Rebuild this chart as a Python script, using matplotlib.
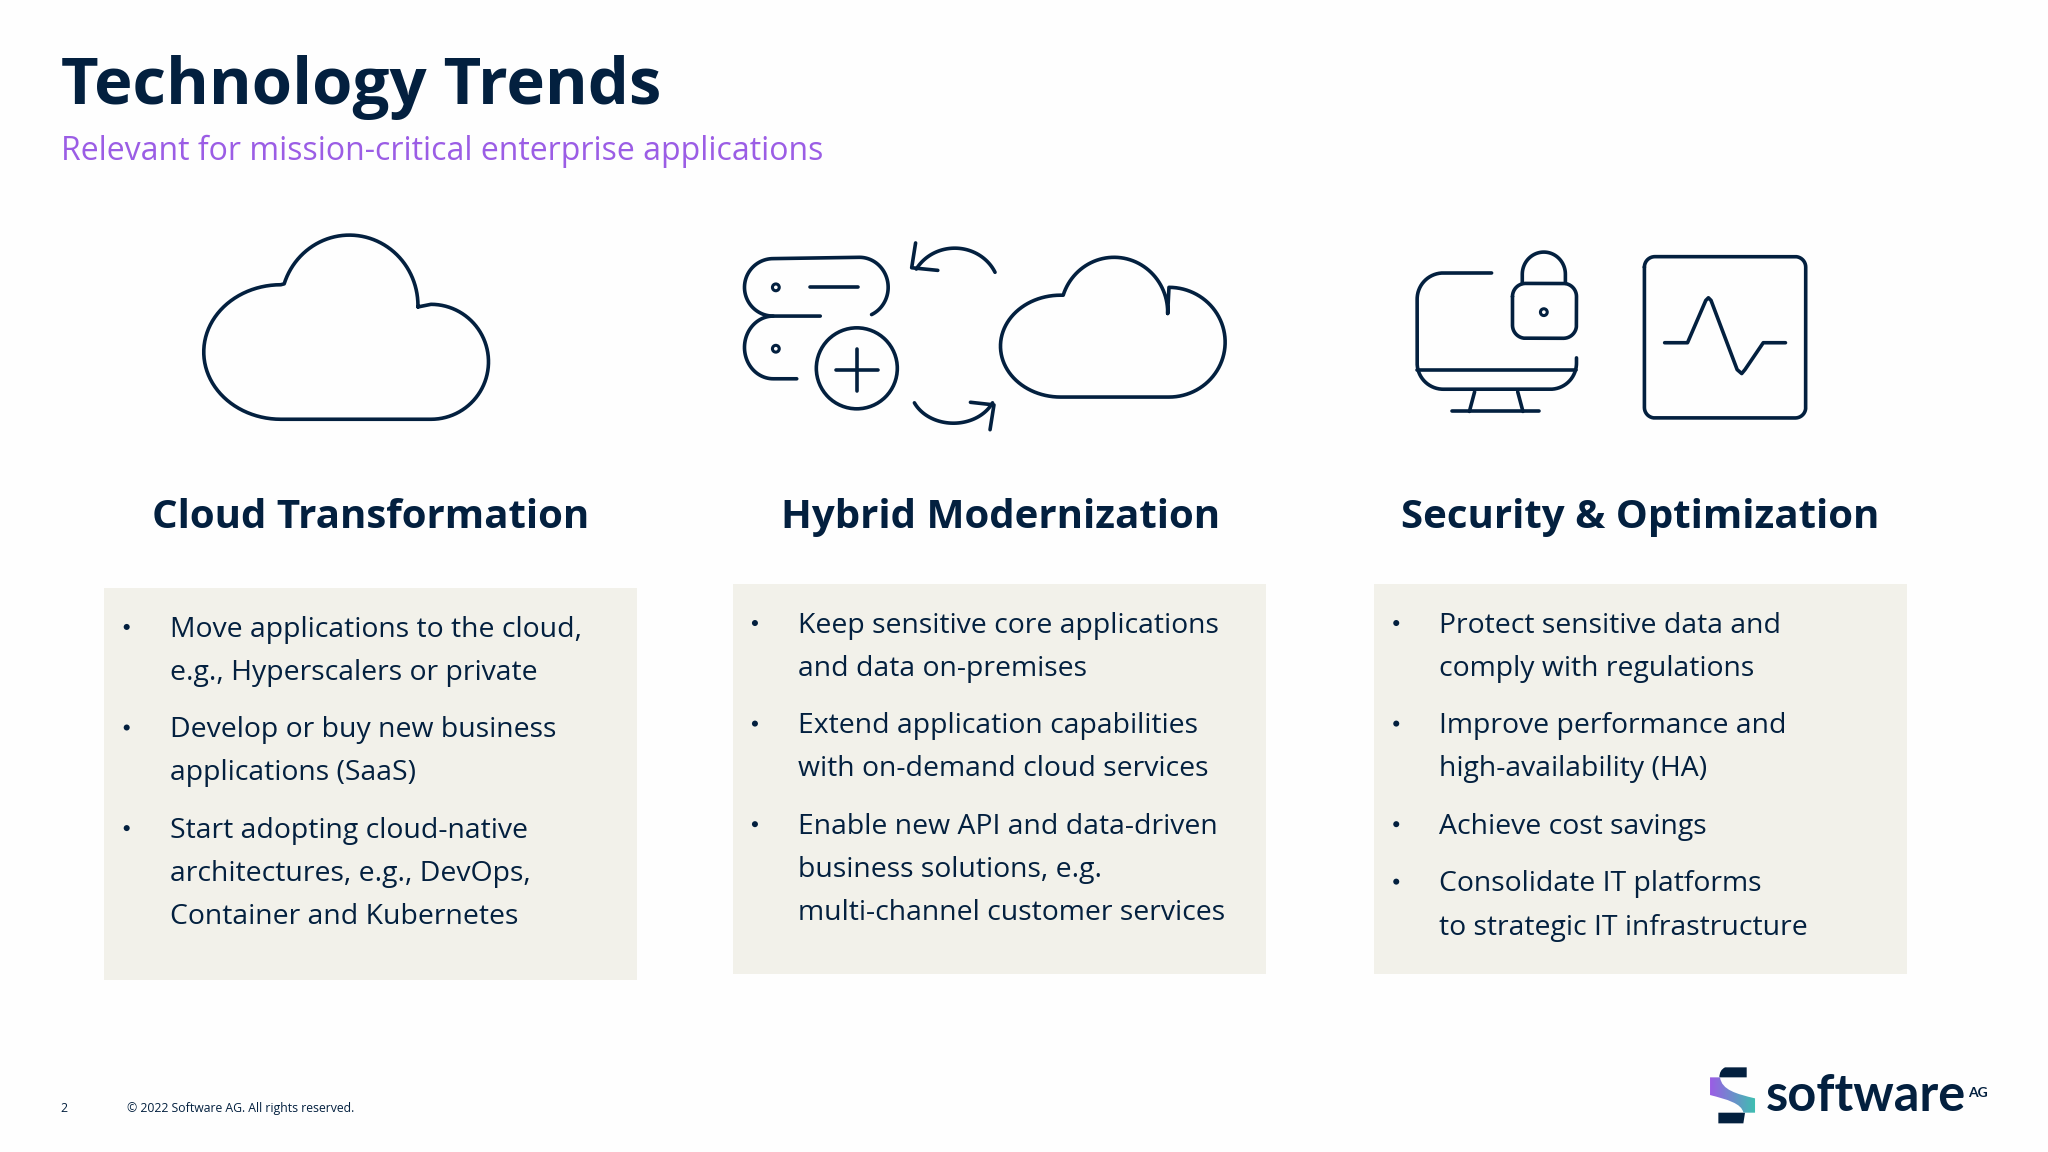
import numpy as np
import matplotlib
matplotlib.use("Agg")
import matplotlib.pyplot as plt
from matplotlib.patches import Rectangle, Circle, PathPatch
from matplotlib.path import Path

TITLE = "Technology Trends"
SUBTITLE = "Relevant for mission-critical enterprise applications"
HEADINGS = ["Cloud Transformation", "Hybrid Modernization", "Security & Optimization"]
BULLETS_1 = [["Move applications to the cloud,", "e.g., Hyperscalers or private"],
             ["Develop or buy new business", "applications (SaaS)"],
             ["Start adopting cloud-native", "architectures, e.g., DevOps,", "Container and Kubernetes"]]
BULLETS_2 = [["Keep sensitive core applications", "and data on-premises"],
             ["Extend application capabilities", "with on-demand cloud services"],
             ["Enable new API and data-driven", "business solutions, e.g.", "multi-channel customer services"]]
BULLETS_3 = [["Protect sensitive data and", "comply with regulations"],
             ["Improve performance and", "high-availability (HA)"],
             ["Achieve cost savings"],
             ["Consolidate IT platforms", "to strategic IT infrastructure"]]
PAGE = "2"
FOOTER = "© 2022 Software AG. All rights reserved."
LOGO = "software"
LOGO_AG = "AG"

NAVY = "#03203f"
PURPLE = "#9b5de5"
PANEL = "#f2f1ea"
FONT = "Open Sans"

fig = plt.figure(figsize=(20.48, 11.52), dpi=100, facecolor="#fefefe")
ax = fig.add_axes([0, 0, 1, 1])
ax.set_xlim(0, 1568)
ax.set_ylim(882, 0)
ax.axis("off")

def txt(x, y, s, size, color=NAVY, weight="normal", ha="left", va="baseline", family=FONT):
    return ax.text(x, y, s, fontsize=size, color=color, fontweight=weight, ha=ha, va=va, family=family)

def arc(cx, cy, rx, ry, a1, a2, n=50):
    t = np.radians(np.linspace(a1, a2, n))
    return np.column_stack([cx + rx*np.cos(t), cy + ry*np.sin(t)])

def stroke(pts, lw=2.6, closed=False):
    pts = np.asarray(pts, float)
    if closed:
        pts = np.vstack([pts, pts[:1]])
    ax.plot(pts[:, 0], pts[:, 1], color=NAVY, lw=lw, solid_capstyle="round", solid_joinstyle="round")

def rrect(x0, y0, x1, y1, r, lw=2.6):
    p = np.vstack([arc(x0+r, y0+r, r, r, 180, 270), arc(x1-r, y0+r, r, r, 270, 360),
                   arc(x1-r, y1-r, r, r, 0, 90), arc(x0+r, y1-r, r, r, 90, 180)])
    stroke(p, lw, closed=True)

# header
txt(47, 80, TITLE, 47, weight="bold")
txt(47, 122.5, SUBTITLE, 23)

ax.texts[-1].set_color(PURPLE)

# cloud 1
stroke(np.vstack([[(320, 235)], arc(267.5, 234, 52.5, 54, 0, -162), [(215, 218)],
                  arc(215, 269.5, 59, 51.5, -90, -270),
                  arc(330, 277, 44, 44, 90, -90), [(320, 235)]]))
# cloud 2
stroke(np.vstack([[(894, 240)], arc(853, 239, 41, 42, 0, -162), [(812, 226)],
                  arc(812, 265, 46, 39, -90, -270),
                  arc(895, 262, 43, 42, 90, -90), [(894, 240)]]))

# servers
stroke(np.vstack([[(628, 242)], arc(592, 220, 22, 22, 90, 270), arc(658, 220, 22, 23, -90, 65)]))
stroke(np.vstack([[(610, 290)], arc(592, 266, 22, 24, 90, 270)]))
stroke([(620, 220), (657, 220)])
ax.add_patch(Circle((594, 220), 2.6, fc="none", ec=NAVY, lw=2.2))
ax.add_patch(Circle((594, 267), 2.6, fc="none", ec=NAVY, lw=2.2))
ax.add_patch(Circle((656, 282), 31, fc="none", ec=NAVY, lw=2.6))
stroke([(640, 283), (672, 283)]); stroke([(656, 267), (656, 299)])
# arrows
stroke(arc(731, 222, 34, 32, -25, -150)); stroke([(701, 186), (698, 205), (718, 207)])
stroke(arc(730, 297, 33, 27, 155, 25)); stroke([(743, 308), (761, 310), (758, 329)])

# monitor
stroke(np.vstack([[(1142, 209)], arc(1105, 229, 20, 20, -90, -180), arc(1105, 278, 20, 20, 180, 90),
                  arc(1187, 278, 20, 20, 90, 0), [(1207, 274)]]))
stroke([(1085, 283), (1207, 283)])
stroke([(1129, 300), (1125, 315)]); stroke([(1162, 300), (1166, 315)]); stroke([(1112, 315), (1178, 315)])
# lock
rrect(1158, 217, 1207, 259, 10)
stroke(np.vstack([[(1165.5, 217)], arc(1182, 210, 16.5, 17, 180, 360), [(1198.5, 217)]]))
ax.add_patch(Circle((1182, 239), 2.6, fc="none", ec=NAVY, lw=2.2))
# pulse
rrect(1259, 196.5, 1382.5, 320, 8)
stroke([(1274.5, 262.4), (1292, 262.4), (1306, 230), (1308, 228), (1310, 230), (1330, 283), (1333.5, 286), (1336, 283), (1350, 262.4), (1367, 262.4)])

# panels and text
PANEL_X = [80, 561, 1052]
PANEL_Y = [(450, 750), (447, 746), (447, 746)]
HEAD_X = [284, 766, 1256]
for px, (y0, y1), hx, head, bullets in zip(PANEL_X, PANEL_Y, HEAD_X, HEADINGS, [BULLETS_1, BULLETS_2, BULLETS_3]):
    txt(hx, 404, head, 29, weight="bold", ha="center")
    ax.add_patch(Rectangle((px, y0), 408, y1-y0, fc=PANEL, ec="none"))
    y = y0 + 30
    for b in bullets:
        ax.add_patch(Circle((px+17, y), 2.3, fc=NAVY, ec="none"))
        for line in b:
            txt(px+50, y+7.5, line, 20.4)
            y += 33
        y += 11

# footer
txt(46, 851.5, PAGE, 8.8)
txt(97, 851.5, FOOTER, 8.8)

# logo
def L(zx, zy):
    return ((zx/3 + 1680)/1.3061, (zy/3 + 1040)/1.3061)
top = Path([L(200, 82), L(135, 82), L(118, 90), L(118, 112), L(200, 112), L(200, 82)],
           [Path.MOVETO, Path.LINETO, Path.CURVE3, Path.CURVE3, Path.LINETO, Path.CLOSEPOLY])
ax.add_patch(PathPatch(top, fc=NAVY, ec="none"))
bottom = Path([L(115, 218), L(195, 218), L(190, 250), L(115, 250), L(115, 218)],
              [Path.MOVETO, Path.LINETO, Path.LINETO, Path.LINETO, Path.CLOSEPOLY])
ax.add_patch(PathPatch(bottom, fc=NAVY, ec="none"))
ribbon = Path([L(90, 112), L(120, 112), L(125, 150), L(170, 162), L(225, 175), L(225, 218), L(190, 218),
               L(185, 190), L(140, 178), L(90, 165), L(90, 112), L(90, 112)],
              [Path.MOVETO, Path.LINETO, Path.CURVE4, Path.CURVE4, Path.CURVE4, Path.LINETO, Path.LINETO,
               Path.CURVE4, Path.CURVE4, Path.CURVE4, Path.LINETO, Path.CLOSEPOLY])
rp = PathPatch(ribbon, fc="none", ec="none")
ax.add_patch(rp)
grad = np.linspace(0, 1, 64)[None, :, None]
c0, c1 = np.array([0x9b, 0x5d, 0xe5])/255, np.array([0x3d, 0xc0, 0xb0])/255
img = c0 + (c1 - c0)*grad
ex0, ey0 = L(90, 218); ex1, ey1 = L(225, 112)
im = ax.imshow(img, extent=[ex0, ex1, ey0, ey1], aspect="auto", zorder=2)
im.set_clip_path(rp)
ax.set_xlim(0, 1568); ax.set_ylim(882, 0)
lx, ly = L(258, 214)
ax.text(lx, ly, LOGO, fontsize=36.4, color=NAVY, fontweight="bold", family="Lato", ha="left", va="baseline")
ax_x, ax_y = L(864, 172)
ax.text(ax_x, ax_y, LOGO_AG, fontsize=10, color=NAVY, fontweight="bold", family="Lato", ha="left", va="baseline")

fig.savefig("out.png", dpi=100, facecolor=fig.get_facecolor())
